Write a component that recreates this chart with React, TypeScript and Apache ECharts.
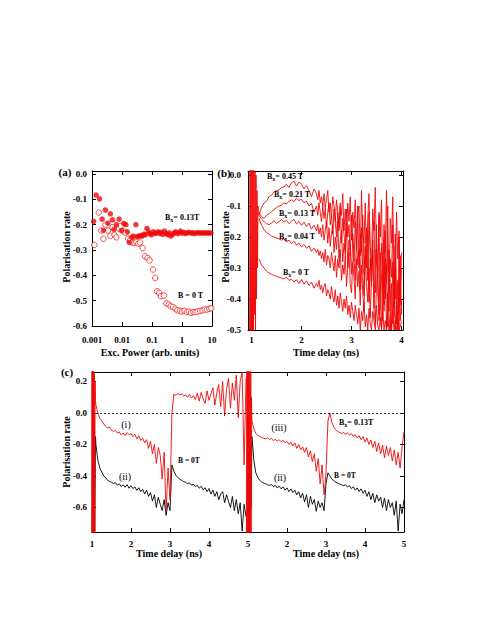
import React, { useEffect, useRef } from 'react';
import * as echarts from 'echarts';

const RED = '#f00808';
const FONT = 'Liberation Serif, Times New Roman, serif';

// ---------- Panel (a): polarisation vs excitation power ----------
const powerFilled = [0.00114, 0.00137, 0.00178, 0.00218, 0.0024, 0.0028, 0.0034, 0.0041, 0.0048, 0.0054, 0.0065, 0.008, 0.0096, 0.0115, 0.0135, 0.015, 0.0174, 0.021, 0.024, 0.029, 0.032, 0.037, 0.042, 0.047, 0.053, 0.06, 0.068, 0.076, 0.085, 0.095, 0.11, 0.125, 0.14, 0.16, 0.18, 0.2, 0.23, 0.26, 0.3, 0.34, 0.38, 0.43, 0.48, 0.55, 0.62, 0.7, 0.8, 0.9, 1.0, 1.15, 1.3, 1.5, 1.7, 2.0, 2.3, 2.6, 3.0, 3.5, 4.0, 4.6, 5.3, 6.1, 7.0, 8.0, 9.2];
const polFilled = [-0.187, -0.083, -0.098, -0.178, -0.222, -0.142, -0.194, -0.157, -0.181, -0.218, -0.2, -0.178, -0.223, -0.195, -0.2, -0.228, -0.27, -0.25, -0.245, -0.2, -0.247, -0.245, -0.243, -0.245, -0.238, -0.24, -0.215, -0.228, -0.235, -0.24, -0.228, -0.235, -0.232, -0.228, -0.235, -0.23, -0.238, -0.225, -0.235, -0.24, -0.232, -0.245, -0.238, -0.232, -0.228, -0.235, -0.232, -0.225, -0.233, -0.23, -0.235, -0.232, -0.23, -0.233, -0.232, -0.235, -0.232, -0.232, -0.233, -0.232, -0.233, -0.232, -0.233, -0.232, -0.233];
const powerOpen = [0.0012, 0.00168, 0.002, 0.0024, 0.0028, 0.0034, 0.0041, 0.0048, 0.0056, 0.0065, 0.0078, 0.009, 0.011, 0.013, 0.016, 0.019, 0.022, 0.026, 0.03, 0.035, 0.04, 0.049, 0.059, 0.071, 0.083, 0.108, 0.128, 0.147, 0.172, 0.2, 0.25, 0.3, 0.36, 0.42, 0.5, 0.6, 0.7, 0.85, 1.0, 1.2, 1.45, 1.7, 2.0, 2.4, 2.8, 3.3, 4.0, 4.8, 5.7, 6.8, 8.2, 9.5];
const polOpen = [-0.28, -0.152, -0.223, -0.256, -0.2, -0.223, -0.244, -0.21, -0.24, -0.25, -0.215, -0.205, -0.225, -0.232, -0.255, -0.26, -0.27, -0.272, -0.268, -0.275, -0.27, -0.292, -0.325, -0.331, -0.341, -0.377, -0.41, -0.463, -0.469, -0.482, -0.48, -0.511, -0.515, -0.522, -0.525, -0.532, -0.538, -0.54, -0.543, -0.54, -0.545, -0.543, -0.548, -0.545, -0.545, -0.543, -0.54, -0.538, -0.535, -0.535, -0.532, -0.53];
const polTicksA = [0, -0.1, -0.2, -0.3, -0.4, -0.5, -0.6];

// ---------- Panel (b): time traces for several Bx ----------
// early part sampled from 1.15 ns every 0.05 ns, late part from 2.30 ns every 0.025 ns
const bEarlyStart = 1.15;
const bEarlyStep = 0.05;
const bLateStart = 2.3;
const bLateStep = 0.025;
const b045Early = [-0.13, -0.105, -0.09, -0.085, -0.07, -0.065, -0.055, -0.05, -0.048, -0.04, -0.038, -0.03, -0.04, -0.025, -0.02, -0.035, -0.022, -0.03, -0.045, -0.035, -0.05, -0.07, -0.045];
const b045Late = [-0.06, -0.08, -0.05, -0.09, -0.07, -0.1, -0.06, -0.11, -0.08, -0.05,
  -0.12, -0.09, -0.14, -0.07, -0.1, -0.15, -0.08, -0.12, -0.17, -0.09,
  -0.13, -0.06, -0.18, -0.11, -0.2, -0.09, -0.15, -0.07, -0.21, -0.12,
  -0.17, -0.08, -0.24, -0.13, -0.1, -0.26, -0.05, -0.19, -0.22, -0.09,
  -0.28, -0.14, -0.06, -0.23, -0.3, -0.11, -0.18, -0.04, -0.27, -0.33,
  -0.12, -0.2, -0.08, -0.35, -0.16, -0.25, -0.05, -0.3, -0.38, -0.14,
  -0.22, -0.07, -0.33, -0.4, -0.12, -0.27, -0.18, -0.42, -0.25];
const b021Early = [-0.12, -0.135, -0.14, -0.13, -0.125, -0.118, -0.112, -0.105, -0.1, -0.097, -0.09, -0.093, -0.085, -0.08, -0.086, -0.075, -0.082, -0.078, -0.09, -0.084, -0.1, -0.092, -0.12];
const b021Late = [-0.1, -0.13, -0.09, -0.12, -0.15, -0.1, -0.14, -0.11, -0.17, -0.12,
  -0.09, -0.16, -0.13, -0.19, -0.11, -0.15, -0.2, -0.12, -0.18, -0.1,
  -0.22, -0.14, -0.19, -0.24, -0.11, -0.2, -0.16, -0.26, -0.13, -0.21,
  -0.28, -0.15, -0.23, -0.1, -0.3, -0.19, -0.25, -0.13, -0.32, -0.22,
  -0.17, -0.34, -0.12, -0.27, -0.36, -0.2, -0.15, -0.38, -0.24, -0.31,
  -0.13, -0.4, -0.22, -0.29, -0.42, -0.18, -0.35, -0.1, -0.44, -0.27,
  -0.33, -0.16, -0.46, -0.23, -0.38, -0.48, -0.2, -0.36, -0.3];
const b013Early = [-0.13, -0.142, -0.15, -0.157, -0.16, -0.155, -0.148, -0.156, -0.15, -0.144, -0.152, -0.146, -0.157, -0.149, -0.143, -0.158, -0.15, -0.162, -0.152, -0.166, -0.155, -0.175, -0.162];
const b013Late = [-0.18, -0.16, -0.19, -0.17, -0.2, -0.16, -0.21, -0.18, -0.15, -0.22,
  -0.17, -0.23, -0.19, -0.16, -0.25, -0.2, -0.24, -0.15, -0.27, -0.21,
  -0.18, -0.28, -0.22, -0.26, -0.16, -0.3, -0.21, -0.25, -0.32, -0.19,
  -0.27, -0.34, -0.2, -0.29, -0.24, -0.37, -0.17, -0.31, -0.39, -0.23,
  -0.3, -0.18, -0.41, -0.27, -0.35, -0.21, -0.43, -0.3, -0.16, -0.38,
  -0.45, -0.25, -0.33, -0.47, -0.2, -0.4, -0.29, -0.49, -0.24, -0.37,
  -0.5, -0.28, -0.43, -0.19, -0.48, -0.34, -0.5, -0.26, -0.45];
const b004Early = [-0.14, -0.162, -0.176, -0.186, -0.19, -0.197, -0.2, -0.203, -0.206, -0.21, -0.206, -0.216, -0.21, -0.221, -0.214, -0.226, -0.22, -0.232, -0.224, -0.236, -0.229, -0.246, -0.236];
const b004Late = [-0.25, -0.24, -0.26, -0.245, -0.27, -0.25, -0.28, -0.24, -0.29, -0.26,
  -0.27, -0.3, -0.25, -0.28, -0.31, -0.26, -0.33, -0.27, -0.3, -0.24,
  -0.34, -0.29, -0.32, -0.26, -0.36, -0.3, -0.25, -0.35, -0.38, -0.28,
  -0.33, -0.4, -0.27, -0.36, -0.31, -0.42, -0.29, -0.38, -0.44, -0.26,
  -0.35, -0.41, -0.3, -0.46, -0.33, -0.24, -0.43, -0.48, -0.36, -0.29,
  -0.47, -0.4, -0.5, -0.32, -0.44, -0.27, -0.5, -0.38, -0.45, -0.5,
  -0.35, -0.48, -0.3, -0.5, -0.42, -0.5, -0.33, -0.47, -0.4];
const b000Early = [-0.27, -0.29, -0.3, -0.31, -0.316, -0.32, -0.324, -0.327, -0.33, -0.332, -0.335, -0.33, -0.34, -0.336, -0.345, -0.338, -0.35, -0.337, -0.352, -0.342, -0.356, -0.345, -0.365];
const b000Late = [-0.35, -0.36, -0.34, -0.37, -0.355, -0.38, -0.36, -0.35, -0.39, -0.37,
  -0.38, -0.4, -0.36, -0.39, -0.41, -0.37, -0.42, -0.39, -0.43, -0.38,
  -0.41, -0.44, -0.4, -0.43, -0.39, -0.45, -0.42, -0.46, -0.41, -0.44,
  -0.47, -0.42, -0.45, -0.48, -0.43, -0.5, -0.44, -0.47, -0.41, -0.49,
  -0.45, -0.5, -0.43, -0.48, -0.5, -0.44, -0.47, -0.5, -0.42, -0.49,
  -0.5, -0.46, -0.5, -0.44, -0.5, -0.47, -0.5, -0.45, -0.5, -0.48,
  -0.5, -0.44, -0.5, -0.47, -0.5, -0.46, -0.5, -0.49, -0.47];
const bSpikeT = [0.96, 0.97, 0.98, 0.99, 1.0, 1.01, 1.02, 1.03, 1.04, 1.05, 1.06, 1.07, 1.08, 1.09, 1.10, 1.11, 1.12, 1.13, 1.14];
const bSpikeV = [-0.55, 0.02, -0.55, 0.02, -0.55, 0.02, -0.5, 0.02, -0.55, 0.02, -0.45, 0.01, -0.5, 0.0, -0.4, -0.05, -0.3, -0.1, -0.13];
const timeTicksB = [1, 2, 3, 4];
const polTicksB = [0, -0.1, -0.2, -0.3, -0.4, -0.5];

// ---------- Panel (c): two concatenated time windows ----------
const cStep = 0.05;
const cLeftStart = 1.10;
const cRightStart = 5.10;
const cRedI = [0.05, 0.0, -0.035, -0.05, -0.07, -0.085, -0.095, -0.09, -0.11, -0.118,
  -0.11, -0.128, -0.122, -0.14, -0.128, -0.145, -0.125, -0.138, -0.132, -0.15,
  -0.135, -0.165, -0.145, -0.175, -0.16, -0.19, -0.17, -0.225, -0.18, -0.26,
  -0.2, -0.32, -0.22, -0.27, -0.42, -0.25, -0.62, -0.35, -0.55, 0.0,
  0.12, 0.11, 0.125, 0.115, 0.12, 0.108, 0.115, 0.1, 0.118, 0.095,
  0.11, 0.085, 0.125, 0.075, 0.13, 0.09, 0.06, 0.14, 0.08, 0.12,
  0.16, 0.05, 0.13, 0.18, 0.04, 0.2, -0.02, 0.15, 0.22, 0.03,
  0.19, 0.08, 0.24, -0.03, 0.2, 0.26, -0.33, 0.22];
const cBlackIIa = [-0.2, -0.3, -0.35, -0.375, -0.4, -0.41, -0.428, -0.435, -0.44, -0.448,
  -0.443, -0.458, -0.45, -0.468, -0.456, -0.472, -0.455, -0.478, -0.462, -0.48,
  -0.47, -0.492, -0.475, -0.5, -0.485, -0.515, -0.49, -0.53, -0.505, -0.56,
  -0.52, -0.6, -0.535, -0.58, -0.62, -0.55, -0.65, -0.57, -0.62, -0.33,
  -0.37, -0.395, -0.41, -0.42, -0.428, -0.436, -0.44, -0.448, -0.444, -0.458,
  -0.452, -0.468, -0.46, -0.478, -0.466, -0.488, -0.475, -0.5, -0.48, -0.515,
  -0.49, -0.53, -0.5, -0.55, -0.515, -0.5, -0.57, -0.52, -0.56, -0.6,
  -0.53, -0.62, -0.55, -0.64, -0.57, -0.75, -0.58, -0.66];
const cRedIII = [-0.05, -0.1, -0.13, -0.142, -0.15, -0.155, -0.16, -0.165, -0.158, -0.17,
  -0.163, -0.175, -0.168, -0.18, -0.17, -0.183, -0.174, -0.19, -0.18, -0.2,
  -0.186, -0.21, -0.19, -0.225, -0.2, -0.235, -0.215, -0.25, -0.22, -0.28,
  -0.24, -0.31, -0.26, -0.37, -0.29, -0.45, -0.33, -0.52, -0.38, -0.05,
  0.0, -0.06, -0.09, -0.108, -0.118, -0.124, -0.13, -0.124, -0.135, -0.128,
  -0.14, -0.132, -0.148, -0.138, -0.158, -0.145, -0.17, -0.15, -0.185, -0.16,
  -0.2, -0.172, -0.22, -0.18, -0.245, -0.19, -0.26, -0.205, -0.285, -0.21,
  -0.27, -0.22, -0.305, -0.235, -0.33, -0.25, -0.35, -0.22, -0.12];
const cBlackIIb = [-0.15, -0.3, -0.38, -0.41, -0.428, -0.438, -0.445, -0.45, -0.456, -0.46,
  -0.455, -0.468, -0.46, -0.476, -0.465, -0.482, -0.47, -0.49, -0.476, -0.5,
  -0.482, -0.505, -0.49, -0.52, -0.5, -0.54, -0.51, -0.565, -0.52, -0.6,
  -0.53, -0.58, -0.55, -0.625, -0.56, -0.6, -0.57, -0.62, -0.45, -0.38,
  -0.4, -0.42, -0.43, -0.44, -0.446, -0.452, -0.456, -0.462, -0.456, -0.47,
  -0.462, -0.48, -0.47, -0.49, -0.476, -0.5, -0.482, -0.51, -0.49, -0.53,
  -0.5, -0.55, -0.51, -0.57, -0.52, -0.56, -0.535, -0.6, -0.54, -0.62,
  -0.55, -0.6, -0.57, -0.65, -0.56, -0.75, -0.58, -0.64, -0.55];
const cSpikeRedLT = [0.99, 1.0, 1.01, 1.02, 1.03, 1.04, 1.05, 1.06, 1.07, 1.08, 1.09];
const cSpikeRedLV = [-0.8, 0.3, -0.8, 0.3, -0.8, 0.3, -0.8, 0.25, -0.8, 0.2, 0.08];
const cSpikeBlackLT = [1.03, 1.05, 1.07, 1.09];
const cSpikeBlackLV = [-0.8, -0.1, -0.75, -0.15];
const cSpikeRedMT = [4.96, 4.97, 4.98, 4.99, 5.0, 5.01, 5.02, 5.03, 5.04, 5.05, 5.06, 5.07, 5.08, 5.09];
const cSpikeRedMV = [-0.8, 0.3, -0.8, 0.3, -0.8, 0.3, -0.8, 0.3, -0.8, 0.3, -0.8, 0.3, -0.8, 0.1];
const cSpikeBlackMT = [4.98, 5.0, 5.02, 5.05, 5.08];
const cSpikeBlackMV = [-0.8, 0.0, -0.8, -0.1, -0.6];
const polTicksC = [0.2, 0, -0.2, -0.4, -0.6];

const zip = (xs: number[], ys: number[]) => xs.map((x, i) => [x, ys[i]]);
const grid = (start: number, step: number, ys: number[]) =>
  ys.map((y, i) => [Math.round((start + i * step) * 1000) / 1000, y]);
const trace = (early: number[], late: number[]) =>
  grid(bEarlyStart, bEarlyStep, early).concat(grid(bLateStart, bLateStep, late));

const tickLabel = { fontFamily: FONT, fontWeight: 'bold' as const, fontSize: 9, color: '#000' };
const axLine = { show: true, onZero: false, lineStyle: { color: '#000', width: 1 } };
const tickIn = (custom?: number[]) => ({
  show: true, inside: true, length: 4, lineStyle: { color: '#000', width: 1 },
  ...(custom ? { customValues: custom } : {}),
});
const fmt1 = (v: number) => (Math.abs(v) < 1e-9 ? '0.0' : v.toFixed(1));

const subRich = {
  n: { fontFamily: FONT, fontWeight: 'bold', fontSize: 8, fill: '#000' },
  s: { fontFamily: FONT, fontWeight: 'bold', fontSize: 6, fill: '#000', padding: [5, 0, 0, 0] },
};

function txt(x: number, y: number, text: string, o: any = {}) {
  return {
    type: 'text', x, y, rotation: o.rot || 0, z: 100,
    style: {
      text, fill: '#000', fontFamily: FONT, fontWeight: o.w || 'bold', fontSize: o.fs || 9,
      textAlign: o.align || 'center', align: o.align || 'center',
      textVerticalAlign: 'middle', verticalAlign: 'middle',
      ...(o.rich ? { rich: subRich } : {}),
    },
  };
}

export default function App() {
  const ref = useRef<HTMLDivElement>(null);
  useEffect(() => {
    if (!ref.current) return;
    const chart = echarts.init(ref.current, null, { renderer: 'svg' });
    const line = (name: string, xi: number, yi: number, data: any[], color: string, extra: any = {}) => ({
      name, type: 'line', xAxisIndex: xi, yAxisIndex: yi, data, showSymbol: false, symbol: 'none',
      lineStyle: { color, width: 0.9 }, clip: true, silent: true, ...extra,
    });
    const option: any = {
      animation: false,
      backgroundColor: '#fff',
      textStyle: { fontFamily: FONT },
      grid: [
        { left: 92, top: 171, width: 120, height: 155 },
        { left: 248, top: 171, width: 155, height: 159 },
        { left: 92, top: 372, width: 312, height: 160 },
      ],
      xAxis: [
        { gridIndex: 0, type: 'log', logBase: 10, min: 0.001, max: 10, position: 'bottom', axisLine: axLine, axisTick: tickIn(),
          axisLabel: { ...tickLabel, margin: 9, formatter: (v: number) => String(+Number(v).toPrecision(3)) }, splitLine: { show: false } },
        { gridIndex: 0, type: 'log', logBase: 10, min: 0.001, max: 10, position: 'top', axisLine: axLine, axisTick: tickIn(),
          axisLabel: { show: false }, splitLine: { show: false } },
        { gridIndex: 1, type: 'value', min: 0.93, max: 4.03, position: 'bottom', axisLine: axLine, axisTick: tickIn(timeTicksB),
          axisLabel: { ...tickLabel, margin: 5, customValues: timeTicksB }, splitLine: { show: false } },
        { gridIndex: 1, type: 'value', min: 0.93, max: 4.03, position: 'top', axisLine: axLine, axisTick: tickIn(timeTicksB),
          axisLabel: { show: false }, splitLine: { show: false } },
        { gridIndex: 2, type: 'value', min: 1, max: 9, interval: 1, position: 'bottom', axisLine: axLine, axisTick: tickIn(),
          axisLabel: { ...tickLabel, margin: 7, formatter: (v: number) => String(v > 5 ? v - 4 : v) }, splitLine: { show: false } },
        { gridIndex: 2, type: 'value', min: 1, max: 9, interval: 1, position: 'top', axisLine: axLine, axisTick: tickIn(),
          axisLabel: { show: false }, splitLine: { show: false } },
      ],
      yAxis: [
        { gridIndex: 0, type: 'value', min: -0.6, max: 0.012, position: 'left', axisLine: axLine, axisTick: tickIn(polTicksA),
          axisLabel: { ...tickLabel, margin: 5, customValues: polTicksA, formatter: fmt1 }, splitLine: { show: false } },
        { gridIndex: 0, type: 'value', min: -0.6, max: 0.012, position: 'right', axisLine: axLine, axisTick: tickIn(polTicksA),
          axisLabel: { show: false }, splitLine: { show: false } },
        { gridIndex: 1, type: 'value', min: -0.5, max: 0.013, position: 'left', axisLine: axLine, axisTick: tickIn(polTicksB),
          axisLabel: { ...tickLabel, margin: 7, customValues: polTicksB, formatter: fmt1 }, splitLine: { show: false } },
        { gridIndex: 1, type: 'value', min: -0.5, max: 0.013, position: 'right', axisLine: axLine, axisTick: tickIn(polTicksB),
          axisLabel: { show: false }, splitLine: { show: false } },
        { gridIndex: 2, type: 'value', min: -0.756, max: 0.26, position: 'left', axisLine: axLine, axisTick: tickIn(polTicksC),
          axisLabel: { ...tickLabel, margin: 5, customValues: polTicksC, formatter: fmt1 }, splitLine: { show: false } },
        { gridIndex: 2, type: 'value', min: -0.756, max: 0.26, position: 'right', axisLine: axLine, axisTick: tickIn(polTicksC),
          axisLabel: { show: false }, splitLine: { show: false } },
      ],
      series: [
        { name: 'B = 0 T', type: 'scatter', xAxisIndex: 0, yAxisIndex: 0, data: zip(powerOpen, polOpen), symbol: 'circle', symbolSize: 5.5,
          itemStyle: { color: '#fff', borderColor: RED, borderWidth: 0.9 }, silent: true },
        { name: 'Bx = 0.13T', type: 'scatter', xAxisIndex: 0, yAxisIndex: 0, data: zip(powerFilled, polFilled), symbol: 'circle', symbolSize: 5.5,
          itemStyle: { color: RED }, silent: true },
        line('spike b', 2, 2, zip(bSpikeT, bSpikeV), RED),
        line('Bx=0 T', 2, 2, trace(b000Early, b000Late), RED),
        line('Bx=0.04 T', 2, 2, trace(b004Early, b004Late), RED),
        line('Bx=0.13 T', 2, 2, trace(b013Early, b013Late), RED),
        line('Bx=0.21 T', 2, 2, trace(b021Early, b021Late), RED),
        line('Bx=0.45 T', 2, 2, trace(b045Early, b045Late), RED),
        line('(ii) left', 4, 4, zip(cSpikeBlackLT, cSpikeBlackLV).concat(grid(cLeftStart, cStep, cBlackIIa)), '#000', {
          markLine: { silent: true, symbol: ['none', 'none'], label: { show: false },
            lineStyle: { color: '#000', width: 0.8, type: [2, 2] }, data: [{ yAxis: 0 }] },
        }),
        line('(ii) right', 4, 4, zip(cSpikeBlackMT, cSpikeBlackMV).concat(grid(cRightStart, cStep, cBlackIIb)), '#000'),
        line('(i)', 4, 4, zip(cSpikeRedLT, cSpikeRedLV).concat(grid(cLeftStart, cStep, cRedI)), RED),
        line('(iii)', 4, 4, zip(cSpikeRedMT, cSpikeRedMV).concat(grid(cRightStart, cStep, cRedIII)), RED),
      ],
      graphic: [
        txt(65, 172, '(a)', { fs: 11 }),
        txt(224, 173, '(b)', { fs: 11 }),
        txt(67, 372, '(c)', { fs: 11 }),
        txt(66, 247, 'Polarisation rate', { fs: 10, rot: Math.PI / 2 }),
        txt(150, 352, 'Exc. Power (arb. units)', { fs: 10 }),
        txt(225, 247, 'Polarisation rate', { fs: 10, rot: Math.PI / 2 }),
        txt(326, 352, 'Time delay (ns)', { fs: 10 }),
        txt(66, 452, 'Polarisation rate', { fs: 10, rot: Math.PI / 2 }),
        txt(169, 553, 'Time delay (ns)', { fs: 10 }),
        txt(326, 553, 'Time delay (ns)', { fs: 10 }),
        txt(165, 217, '{n|B}{s|x}{n|= 0.13T}', { align: 'left', rich: true }),
        txt(178, 295, 'B = 0 T', { align: 'left', fs: 8 }),
        txt(267, 176, '{n|B}{s|x}{n|= 0.45 T}', { align: 'left', rich: true }),
        txt(274, 194, '{n|B}{s|x}{n|= 0.21 T}', { align: 'left', rich: true }),
        txt(279, 213, '{n|B}{s|x}{n|= 0.13 T}', { align: 'left', rich: true }),
        txt(279, 236, '{n|B}{s|x}{n|= 0.04 T}', { align: 'left', rich: true }),
        txt(283, 272, '{n|B}{s|x}{n|= 0 T}', { align: 'left', rich: true }),
        txt(126, 424, '(i)', { w: 'normal', fs: 10 }),
        txt(125, 476, '(ii)', { w: 'normal', fs: 10 }),
        txt(178, 460, 'B = 0T', { align: 'left', fs: 7.5 }),
        txt(279, 427, '(iii)', { w: 'normal', fs: 10 }),
        txt(280, 477, '(ii)', { w: 'normal', fs: 10 }),
        txt(339, 422, '{n|B}{s|x}{n|= 0.13T}', { align: 'left', rich: true }),
        txt(334, 475, 'B = 0T', { align: 'left', fs: 7.5 }),
      ],
    };
    chart.setOption(option);
    return () => chart.dispose();
  }, []);
  return <div ref={ref} style={{ position: 'absolute', left: 0, top: 0, width: 485, height: 627, background: '#fff' }} />;
}
